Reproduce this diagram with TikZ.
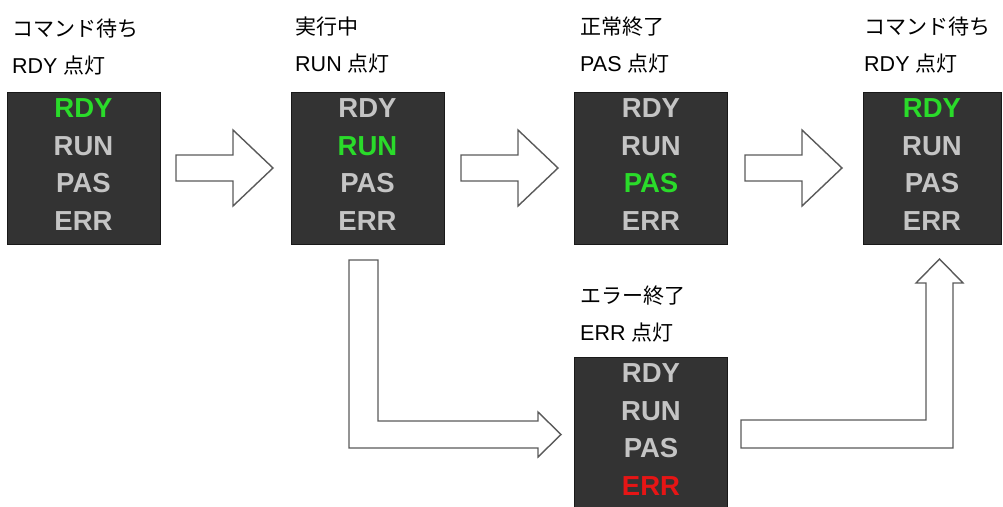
\documentclass[tikz,border=0pt]{standalone}
\usepackage{fontspec}
\setmainfont{Liberation Sans}
\newfontfamily\jpfont{Noto Sans CJK JP}
\newcommand{\jp}[1]{{\jpfont\fontsize{21}{37}\selectfont #1}}

\definecolor{panelgray}{HTML}{333333}
\definecolor{lampgray}{HTML}{C4C4C4}
\definecolor{lampgreen}{HTML}{2ADB2A}
\definecolor{lampred}{HTML}{E61515}
\definecolor{arrowgray}{HTML}{5A5A5A}

\tikzset{
  panel/.style={draw=black!90, fill=panelgray, line width=1pt, minimum width=153pt, minimum height=152pt, inner sep=0pt},
  lamp/.style={inner sep=0pt, font=\bfseries\fontsize{27.5}{35}\selectfont},
  tag/.style={anchor=west, align=left, inner sep=0pt, font=\fontsize{21.5}{37}\selectfont},
  blockarrow/.style={draw=arrowgray, fill=white, line width=1.4pt, line join=miter},
}

\begin{document}
\begin{tikzpicture}[x=1pt,y=-1pt]
  \useasboundingbox (0,0) rectangle (1003,506);
  \clip (0,0) rectangle (1003,506);

  % status panels
  \node[panel] (p1) at (83.5,168) {};
  \node[panel] (p2) at (367.5,168) {};
  \node[panel] (p3) at (651,168) {};
  \node[panel, minimum width=138pt] (p4) at (932,168) {};
  \node[panel] (p5) at (651,433) {};

  % lamp texts, lit one coloured
  \foreach \p/\lit/\col in {p1/1/lampgreen, p2/2/lampgreen, p3/3/lampgreen, p4/1/lampgreen, p5/4/lampred}
    \foreach \t [count=\i] in {RDY,RUN,PAS,ERR} {
      \ifnum\i=\lit \def\c{\col}\else \def\c{lampgray}\fi
      \node[lamp, text=\c, yshift={-(17+37.5*(\i-1))*1pt}] (\p-\t) at (\p.north) {\t};
    }

  % state labels
  \node[tag] (t1) at (12,47) {\jp{コマンド待ち}\\RDY \jp{点灯}};
  \node[tag] (t2) at (295,45) {\jp{実行中}\\RUN \jp{点灯}};
  \node[tag] (t3) at (580,45) {\jp{正常終了}\\PAS \jp{点灯}};
  \node[tag] (t4) at (864,45) {\jp{コマンド待ち}\\RDY \jp{点灯}};
  \node[tag] (t5) at (580,314) {\jp{エラー終了}\\ERR \jp{点灯}};

  % straight block arrows
  \foreach \x in {176,461,745}
    \draw[blockarrow] (\x,155) -- ++(57,0) -- ++(0,-25) -- ++(40,38) -- ++(-40,38) -- ++(0,-25) -- ++(-57,0) -- cycle;

  % run -> error
  \draw[blockarrow] (349,260) -- (378,260) -- (378,421) -- (538,421) -- (538,412) -- (561,434.5)
    -- (538,457) -- (538,448) -- (349,448) -- cycle;
  % error -> ready
  \draw[blockarrow] (741,420) -- (926,420) -- (926,283) -- (916,283) -- (939.5,259) -- (963,283)
    -- (953,283) -- (953,448) -- (741,448) -- cycle;
\end{tikzpicture}
\end{document}
